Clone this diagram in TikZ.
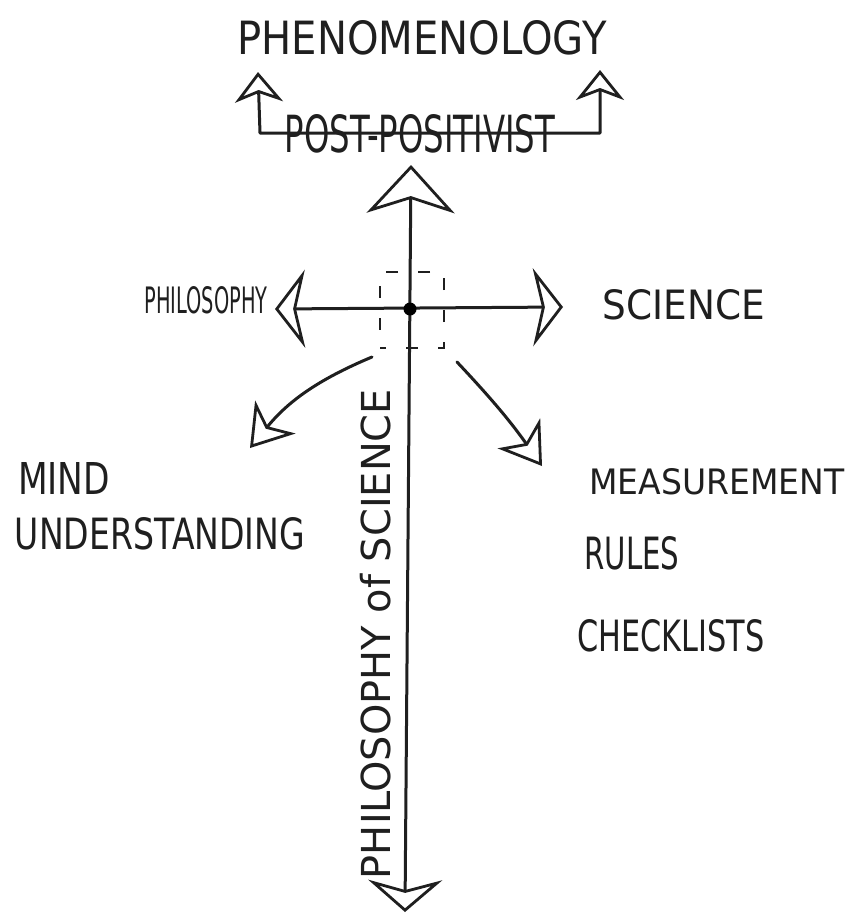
\documentclass[tikz,border=0pt]{standalone}
\usepackage{fontspec}
\setmainfont{DejaVu Sans}
\usepackage{graphicx}
\usetikzlibrary{arrows.meta}
\newcommand\fitbox[3]{\resizebox{#1}{#2}{#3}}
\tikzset{
  ink/.style={line width=3pt, draw=black!88, line cap=round, line join=round},
  lbl/.style={inner sep=0pt, text=black!88, anchor=center},
  hookhead/.tip={Stealth[open, length=30pt, width=48pt, inset=9pt, line width=2.8pt]},
  tophead/.tip={Stealth[open, length=48pt, width=88pt, inset=14pt, line width=2.8pt]},
  bothead/.tip={Stealth[open, length=32pt, width=74pt, inset=10pt, line width=2.8pt]},
  sidehead/.tip={Stealth[open, length=30pt, width=78pt, inset=9pt, line width=2.8pt]},
  diaghead/.tip={Stealth[open, length=40pt, width=52pt, inset=12pt, line width=2.8pt]},
}
\begin{document}
\begin{tikzpicture}[x=1pt,y=-1pt]
\fill[white] (0,0) rectangle (851,924);
\useasboundingbox (0,0) rectangle (851,924);

% ---- labels ----
\node[lbl] (phen) at (422,38) {\fitbox{369pt}{34pt}{PHENOMENOLOGY}};
\node[lbl] (post) at (420,134) {\fitbox{270pt}{38pt}{POST-POSITIVIST}};
\node[lbl] (phil) at (206,300) {\fitbox{123pt}{27pt}{PHILOSOPHY}};
\node[lbl] (sci) at (684,305) {\fitbox{162pt}{30pt}{SCIENCE}};
\node[lbl] (mind) at (64,478) {\fitbox{92pt}{32pt}{MIND}};
\node[lbl] (und) at (160,534) {\fitbox{290pt}{32pt}{UNDERSTANDING}};
\node[lbl] (meas) at (717,482) {\fitbox{255pt}{26pt}{MEASUREMENT}};
\node[lbl] (rules) at (632,553) {\fitbox{95pt}{33pt}{RULES}};
\node[lbl] (check) at (671,636) {\fitbox{187pt}{32pt}{CHECKLISTS}};
\node[lbl, rotate=90] (pos) at (376,634) {\fitbox{490pt}{!}{PHILOSOPHY of SCIENCE}};

% ---- coordinates ----
\coordinate (lhTip) at (258,72);
\coordinate (lc) at (260,133);
\coordinate (rc) at (600,133);
\coordinate (rhTip) at (600,70);
\coordinate (topTip) at (411,165);
\coordinate (botTip) at (405,912);
\coordinate (leftTip) at (275,309);
\coordinate (rightTip) at (563,307);
\coordinate (dlStart) at (372,357);
\coordinate (dlTip) at (250,448);
\coordinate (drStart) at (457,362);
\coordinate (drTip) at (542,466);

% ---- post-positivist hook ----
\draw[ink, hookhead-hookhead] (lhTip) -- (lc) -- (rc) -- (rhTip);

% ---- axes ----
\draw[ink, tophead-bothead] (topTip) -- (botTip);
\draw[ink, sidehead-sidehead] (leftTip) -- (rightTip);

% ---- centre ----
\node[draw=black!88, line width=2.6pt, dash pattern=on 12pt off 20pt, dash phase=6pt,
      minimum width=64pt, minimum height=76pt, inner sep=0pt] (focus) at (412,310) {};
\node[circle, fill=black, inner sep=0pt, minimum size=13pt] (dot) at (410,309) {};

% ---- diagonals ----
\draw[ink, -diaghead] (dlStart) to[bend right=14] (dlTip);
\draw[ink, -diaghead] (drStart) to[bend left=4] (drTip);
\end{tikzpicture}
\end{document}
